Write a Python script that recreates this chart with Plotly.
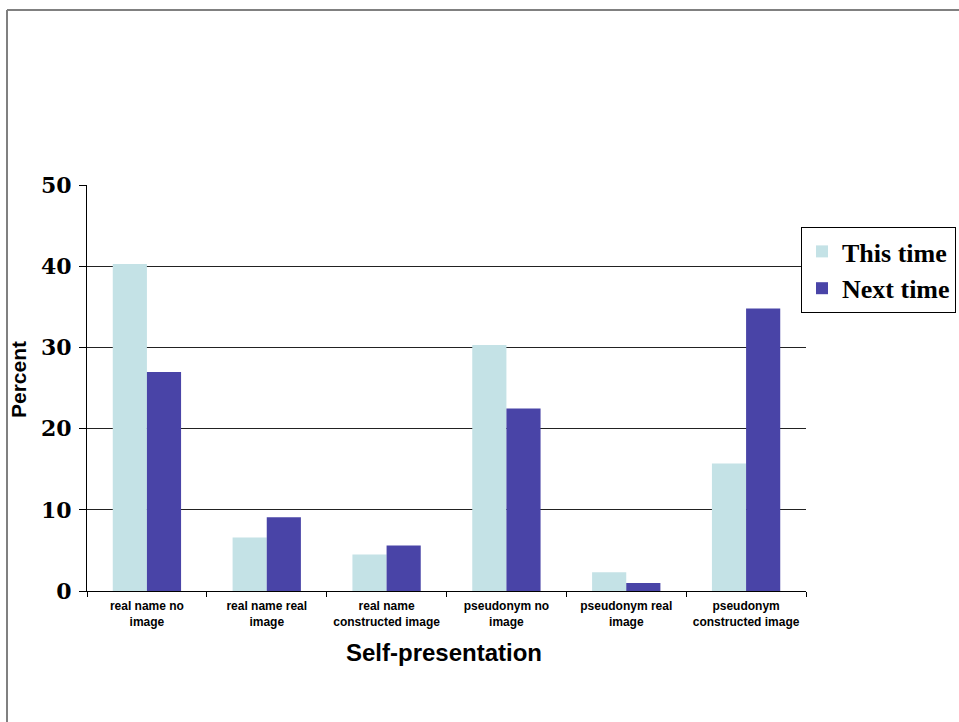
import plotly.graph_objects as go

categories = ["real name no<br>image", "real name real<br>image", "real name<br>constructed image",
              "pseudonym no<br>image", "pseudonym real<br>image", "pseudonym<br>constructed image"]
this_time = [40.3, 6.6, 4.5, 30.3, 2.3, 15.7]
next_time = [27.0, 9.1, 5.6, 22.5, 1.0, 34.8]
y_ticks = [0, 10, 20, 30, 40, 50]

fig = go.Figure()
fig.add_trace(go.Bar(x=categories, y=this_time, name="This time",
                     marker=dict(color="#C4E2E6", line=dict(width=0))))
fig.add_trace(go.Bar(x=categories, y=next_time, name="Next time",
                     marker=dict(color="#4944A7", line=dict(width=0))))

L, R, T, B = 87, 153, 185, 131
W, H = 959, 722
pw, ph = W - L - R, H - T - B

def px(x):
    return (x - L) / pw

def py(y):
    return (H - B - y) / ph

fig.update_layout(
    width=W, height=H,
    margin=dict(l=L, r=R, t=T, b=B, pad=0, autoexpand=False),
    paper_bgcolor="white", plot_bgcolor="white",
    barmode="group", bargap=0.43, bargroupgap=0,
    showlegend=True,
    legend=dict(x=px(801), y=py(227), xanchor="left", yanchor="top",
                bordercolor="black", borderwidth=1, bgcolor="white",
                font=dict(family="Liberation Serif", size=26, color="black", weight="bold"),
                itemwidth=30, tracegroupgap=0),
    xaxis=dict(showline=True, linecolor="black", linewidth=1, automargin=False,
               ticks="outside", tickson="boundaries", ticklen=5, tickcolor="black",
               ticklabelstandoff=4,
               tickfont=dict(family="Liberation Sans", size=12, color="black", weight="bold"),
               showgrid=False),
    yaxis=dict(range=[0, 50.03], tickvals=y_ticks, showline=True, linecolor="black", linewidth=1,
               automargin=False, ticks="outside", ticklen=7, tickcolor="black",
               ticklabelstandoff=3,
               tickfont=dict(family="DejaVu Serif", size=22, color="black", weight="bold"),
               showgrid=True, gridcolor="#222222", gridwidth=1, zeroline=False),
    annotations=[
        dict(text="Percent", x=px(18), y=py(380), xref="paper", yref="paper",
             xanchor="center", yanchor="middle",
             textangle=-90, showarrow=False,
             font=dict(family="Liberation Sans", size=21, color="black", weight="bold")),
        dict(text="Self-presentation", x=px(444), y=py(652), xref="paper", yref="paper",
             xanchor="center", yanchor="middle", showarrow=False,
             font=dict(family="Liberation Sans", size=24, color="black", weight="bold")),
    ],
    shapes=[
        dict(type="line", xref="paper", yref="paper", x0=px(7), x1=px(959), y0=py(10), y1=py(10),
             line=dict(color="#808080", width=2)),
        dict(type="line", xref="paper", yref="paper", x0=px(7), x1=px(7), y0=py(10), y1=py(722),
             line=dict(color="#808080", width=2)),
    ],
)

fig.write_html("out.html")
